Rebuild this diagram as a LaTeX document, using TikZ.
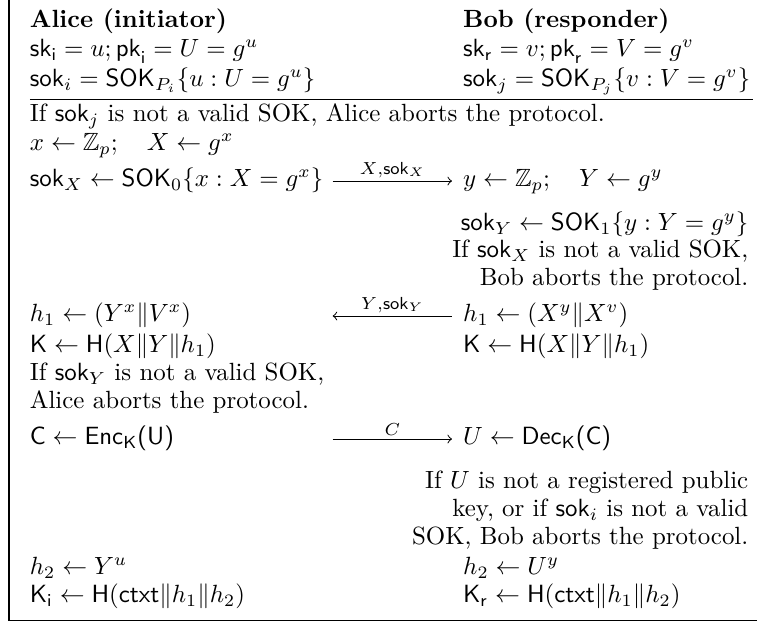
\documentclass[tikz,border=0pt]{standalone}
\usepackage{amsmath,amssymb}
\begin{document}
\begin{tikzpicture}[x=1pt,y=-1pt,
  txt/.style={inner sep=0pt,outer sep=0pt,font=\normalsize},
  lft/.style={txt,anchor=mid west},
  rgt/.style={txt,anchor=mid east},
  msg/.style={line width=0.4pt,-to},
  msgl/.style={line width=0.4pt,to-},
  lab/.style={inner sep=0pt,above=1.2pt,font=\scriptsize},
  frame/.style={line width=0.6pt},
  hrule/.style={line width=0.4pt}]
\useasboundingbox (0,0) rectangle (304,250);
\def\xA{12}
\def\xB{186}
\def\xR{300.5}
\def\xMa{133.6}
\def\xMb{181.5}
% frame
\coordinate (ftop) at (3.6,0);
\coordinate (fcorner) at (3.6,249.2);
\coordinate (fright) at (304,249.2);
\draw[frame] (ftop) -- (fcorner) -- (fright);
% header
\node[lft] (ah1) at (\xA,8.8) {\textbf{Alice (initiator)}};
\node[lft] (ah2) at (\xA,20.7) {$\mathsf{sk}_{\mathsf{i}} = u; \mathsf{pk}_{\mathsf{i}} = U = g^u$};
\node[lft] (ah3) at (\xA,32.5) {$\mathsf{sok}_i = \mathsf{SOK}_{P_i}\{u : U = g^u\}$};
\node[lft] (bh1) at (\xB,8.8) {\textbf{Bob (responder)}};
\node[lft] (bh2) at (\xB,20.7) {$\mathsf{sk}_{\mathsf{r}} = v; \mathsf{pk}_{\mathsf{r}} = V = g^v$};
\node[lft] (bh3) at (\xB,32.5) {$\mathsf{sok}_j = \mathsf{SOK}_{P_j}\{v : V = g^v\}$};
\coordinate (rl) at (\xA,39.8);
\coordinate (rr) at (302.4,39.8);
\draw[hrule] (rl) -- (rr);
% body
\node[lft] (l1) at (\xA,46.6) {If $\mathsf{sok}_j$ is not a valid SOK, Alice aborts the protocol.};
\node[lft] (l2) at (\xA,58.2) {$x \leftarrow \mathbb{Z}_p;\quad X \leftarrow g^x$};
\node[lft] (l3) at (\xA,72.7) {$\mathsf{sok}_X \leftarrow \mathsf{SOK}_0\{x : X = g^x\}$};
\coordinate (m1a) at (\xMa,72.7);
\coordinate (m1b) at (\xMb,72.7);
\draw[msg] (m1a) -- node[lab] (m1l) {$X{,}\mathsf{sok}_X$} (m1b);
\node[lft] (r3) at (\xB,72.7) {$y \leftarrow \mathbb{Z}_p;\quad Y \leftarrow g^y$};
\node[rgt] (r4) at (\xR,90.4) {$\mathsf{sok}_Y \leftarrow \mathsf{SOK}_1\{y : Y = g^y\}$};
\node[rgt] (r5) at (\xR,101.2) {If $\mathsf{sok}_X$ is not a valid SOK,};
\node[rgt] (r6) at (\xR,112.4) {Bob aborts the protocol.};
\node[lft] (l7) at (\xA,126.9) {$h_1 \leftarrow (Y^x \| V^x)$};
\coordinate (m2a) at (\xMa,126.9);
\coordinate (m2b) at (\xMb,126.9);
\draw[msgl] (m2a) -- node[lab] (m2l) {$Y{,}\mathsf{sok}_Y$} (m2b);
\node[lft] (r7) at (\xB,126.9) {$h_1 \leftarrow (X^y \| X^v)$};
\node[lft] (l8) at (\xA,139.4) {$\mathsf{K} \leftarrow \mathsf{H}(X \| Y \| h_1)$};
\node[lft] (r8) at (\xB,139.4) {$\mathsf{K} \leftarrow \mathsf{H}(X \| Y \| h_1)$};
\node[lft] (l9) at (\xA,150.6) {If $\mathsf{sok}_Y$ is not a valid SOK,};
\node[lft] (l10) at (\xA,161.8) {Alice aborts the protocol.};
\node[lft] (l11) at (\xA,176.3) {$\mathsf{C} \leftarrow \mathsf{Enc}_{\mathsf{K}}\text{\sffamily(U)}$};
\coordinate (m3a) at (\xMa,176.3);
\coordinate (m3b) at (\xMb,176.3);
\draw[msg] (m3a) -- node[lab] (m3l) {$C$} (m3b);
\node[lft] (r11) at (\xB,176.3) {$U \leftarrow \mathsf{Dec}_{\mathsf{K}}\text{\sffamily(C)}$};
\node[rgt] (r12) at (\xR,194) {If $U$ is not a registered public};
\node[rgt] (r13) at (\xR,205.2) {key, or if $\mathsf{sok}_i$ is not a valid};
\node[rgt] (r14) at (\xR,216.5) {SOK, Bob aborts the protocol.};
\node[lft] (l15) at (\xA,228.5) {$h_2 \leftarrow Y^u$};
\node[lft] (r15) at (\xB,228.5) {$h_2 \leftarrow U^y$};
\node[lft] (l16) at (\xA,239.8) {$\mathsf{K}_{\mathsf{i}} \leftarrow \mathsf{H}(\mathsf{ctxt} \| h_1 \| h_2)$};
\node[lft] (r16) at (\xB,239.8) {$\mathsf{K}_{\mathsf{r}} \leftarrow \mathsf{H}(\mathsf{ctxt} \| h_1 \| h_2)$};
\end{tikzpicture}
\end{document}
